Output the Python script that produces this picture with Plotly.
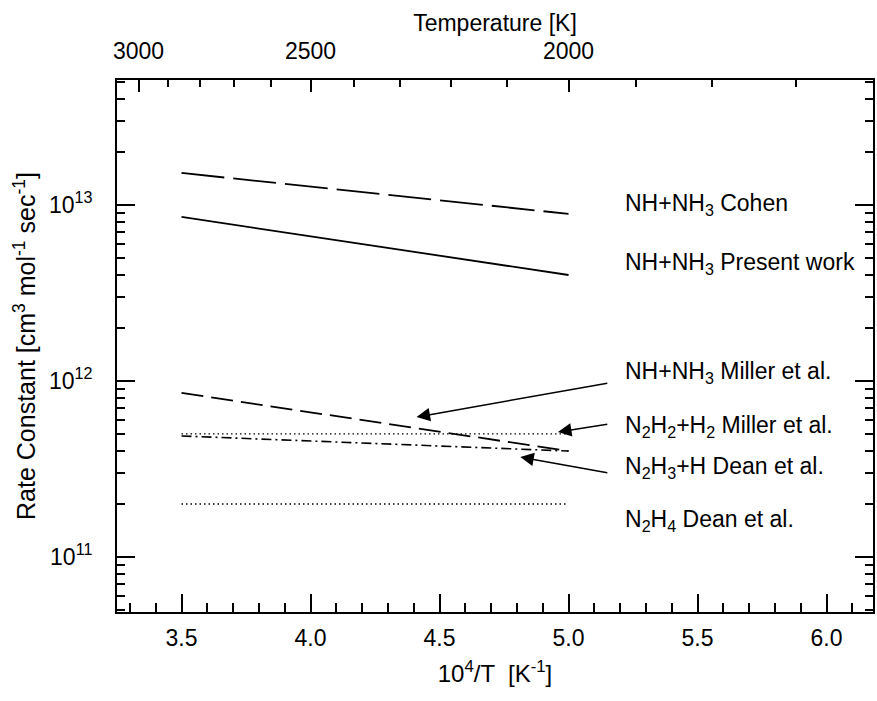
import numpy as np
import plotly.graph_objects as go

# ---- data ----
inv_T = [3.5, 5.0]                      # 10^4/T  [1/K]
k_cohen = [1.52e13, 8.9e12]             # NH+NH3 Cohen
k_present = [8.55e12, 4.0e12]           # NH+NH3 Present work
k_miller_nh = [8.55e11, 4.0e11]         # NH+NH3 Miller et al.
k_n2h2 = [5.0e11, 5.0e11]               # N2H2+H2 Miller et al.
k_n2h3 = [4.87e11, 4.0e11]              # N2H3+H Dean et al.
k_n2h4 = [2.0e11, 2.0e11]               # N2H4 Dean et al.

bottom_major = [3.5, 4.0, 4.5, 5.0, 5.5, 6.0]
bottom_minor = [round(3.3 + 0.1 * i, 1) for i in range(29)]
temp_major = [3000, 2500, 2000]
temp_minor = list(range(3000, 1600, -100))
y_major = [1e11, 1e12, 1e13]
y_major_text = ["10<sup>11</sup>", "10<sup>12</sup>", "10<sup>13</sup>"]
y_minor = [m * 10.0 ** e for e in (10, 11, 12, 13) for m in range(2, 10)]

labels = [
    ("NH+NH<sub>3</sub> Cohen", 13.0),
    ("NH+NH<sub>3</sub> Present work", 12.67),
    ("NH+NH<sub>3</sub> Miller et al.", 12.05),
    ("N<sub>2</sub>H<sub>2</sub>+H<sub>2</sub> Miller et al.", 11.74),
    ("N<sub>2</sub>H<sub>3</sub>+H Dean et al.", 11.51),
    ("N<sub>2</sub>H<sub>4</sub> Dean et al.", 11.21),
]
label_x = 5.21
# arrows: (head x, head log10 y, tail x, tail log10 y)
arrows = [
    (4.411, 11.795, 5.156, 11.989),
    (4.959, 11.710, 5.156, 11.756),
    (4.813, 11.568, 5.156, 11.477),
]

xrange_ = [3.25, 6.18]
yrange_ = [10.6875, 13.71]
FONT = "Liberation Sans, Arial, Helvetica, sans-serif"

fig = go.Figure()
styles = [
    (k_cohen, "43px,9px", 1.8),
    (k_present, "solid", 1.8),
    (k_miller_nh, "22px,8px", 1.8),
    (k_n2h2, "1.5px,3px", 1.3),
    (k_n2h3, "10px,4px,2px,4px", 1.6),
    (k_n2h4, "1.5px,3px", 1.3),
]
for ys, dash, w in styles:
    fig.add_trace(go.Scatter(x=inv_T, y=ys, mode="lines",
                             line=dict(color="black", dash=dash, width=w),
                             showlegend=False, hoverinfo="skip"))

# invisible trace for top temperature axis
fig.add_trace(go.Scatter(x=[1e4 / t for t in temp_major], y=[1e12] * 3,
                         xaxis="x2", mode="markers", opacity=0,
                         showlegend=False, hoverinfo="skip"))

for txt, ly in labels:
    fig.add_annotation(x=label_x, y=ly, xref="x", yref="y", text=txt,
                       showarrow=False, xanchor="left", yanchor="middle",
                       font=dict(family=FONT, size=23, color="black"))
for hx, hy, tx, ty in arrows:
    fig.add_annotation(x=hx, y=hy, ax=tx, ay=ty, xref="x", yref="y",
                       axref="x", ayref="y", text="", showarrow=True,
                       arrowhead=2, arrowsize=1.8, arrowwidth=1.5,
                       arrowcolor="black")

fig.update_layout(
    width=877, height=701,
    margin=dict(l=117, r=2, t=80, b=89),
    paper_bgcolor="white", plot_bgcolor="white",
    font=dict(family=FONT, size=23, color="black"),
    xaxis=dict(range=xrange_, tickmode="array", tickvals=bottom_major,
               ticktext=[f"{v:.1f}" for v in bottom_major],
               ticks="inside", ticklen=18, tickwidth=1.5, tickcolor="black",
               ticklabelstandoff=4,
               minor=dict(tickmode="array", tickvals=bottom_minor, ticks="inside",
                          ticklen=9, tickwidth=1.5, tickcolor="black"),
               showline=True, linecolor="black", linewidth=2, showgrid=False,
               zeroline=False,
               title=dict(text="10<sup>4</sup>/T  [K<sup>-1</sup>]",
                          font=dict(size=24), standoff=16)),
    xaxis2=dict(range=xrange_, overlaying="x", side="top", anchor="y",
                tickmode="array", tickvals=[1e4 / t for t in temp_major],
                ticktext=[str(t) for t in temp_major],
                ticks="inside", ticklen=12, tickwidth=1.5, tickcolor="black",
                ticklabelstandoff=10,
                minor=dict(tickmode="array", tickvals=[1e4 / t for t in temp_minor],
                           ticks="inside", ticklen=7, tickwidth=1.5, tickcolor="black"),
                showline=True, linecolor="black", linewidth=2, showgrid=False,
                zeroline=False,
                title=dict(text="Temperature [K]", font=dict(size=23), standoff=0)),
    yaxis=dict(type="log", range=yrange_, tickmode="array", tickvals=y_major,
               ticktext=y_major_text,
               ticks="inside", ticklen=18, tickwidth=1.5, tickcolor="black",
               ticklabelstandoff=18,
               minor=dict(tickmode="array", tickvals=y_minor, ticks="inside",
                          ticklen=8, tickwidth=1.5, tickcolor="black"),
               showline=True, linecolor="black", linewidth=2, mirror="ticks",
               showgrid=False, zeroline=False,
               title=dict(text="Rate Constant [cm<sup>3</sup> mol<sup>-1</sup> sec<sup>-1</sup>]",
                          font=dict(size=25), standoff=6)),
)

fig.write_html("out.html")
